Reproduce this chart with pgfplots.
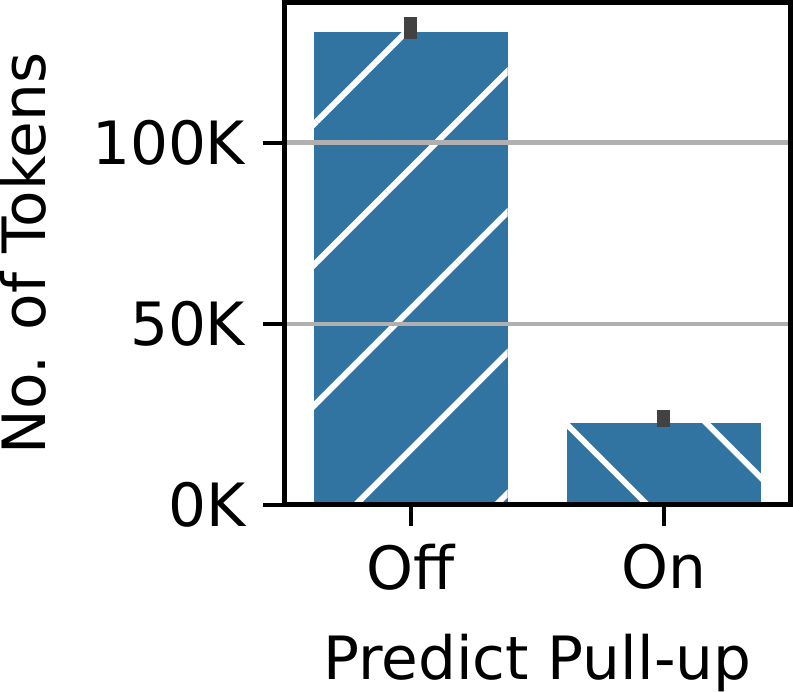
\documentclass[border=0pt]{standalone}
\usepackage{fontspec}
\setmainfont{DejaVu Sans}
\usepackage{pgfplots}
\pgfplotsset{compat=1.18}
\usetikzlibrary{patterns.meta}

\definecolor{barblue}{HTML}{3274A1}
\definecolor{errgray}{HTML}{424242}
\definecolor{gridgray}{HTML}{B0B0B0}

\begin{document}
\begin{tikzpicture}
\begin{axis}[
    scale only axis,
    width=127.25pt,
    height=126.25pt,
    font=\fontsize{15}{18}\selectfont,
    xmin=-0.5, xmax=1.5,
    ymin=0, ymax=138.7,
    xtick={0,1},
    xticklabels={Off,On},
    ytick={0,50,100},
    yticklabels={0K,50K,100K},
    xlabel={Predict Pull-up},
    ylabel={No. of Tokens},
    tick align=outside,
    major tick length=5.25pt,
    tick style={black, line width=1pt},
    axis line style={line width=1.25pt},
    ymajorgrids,
    grid style={gridgray, line width=1.1pt},
    axis on top,
    xtick pos=bottom,
    ytick pos=left,
    yticklabel style={xshift=-1pt},
    xticklabel style={yshift=-1pt},
    xlabel style={inner sep=0pt, yshift=-7.5pt},
    ylabel style={inner sep=0pt, yshift=8pt},
    bar width=48.75pt,
    error bars/y dir=both,
    error bars/y explicit,
    error bars/error mark=none,
    error bars/error bar style={errgray, line width=3.25pt},
]
% Off: forward hatch, On: backward hatch
\addplot[ybar, bar shift=0pt, draw=none, fill=barblue,
    postaction={pattern={Lines[angle=45, distance=25pt, line width=1.5pt, yshift=-7pt]}, pattern color=white}]
    coordinates {(0,130.5) += (0,4.1) -= (0,1.9)};
\addplot[ybar, bar shift=0pt, draw=none, fill=barblue,
    postaction={pattern={Lines[angle=-45, distance=25pt, line width=1.5pt, yshift=-2.5pt]}, pattern color=white}]
    coordinates {(1,22.5) += (0,3.6) -= (0,1.1)};
\end{axis}
\end{tikzpicture}
\end{document}
